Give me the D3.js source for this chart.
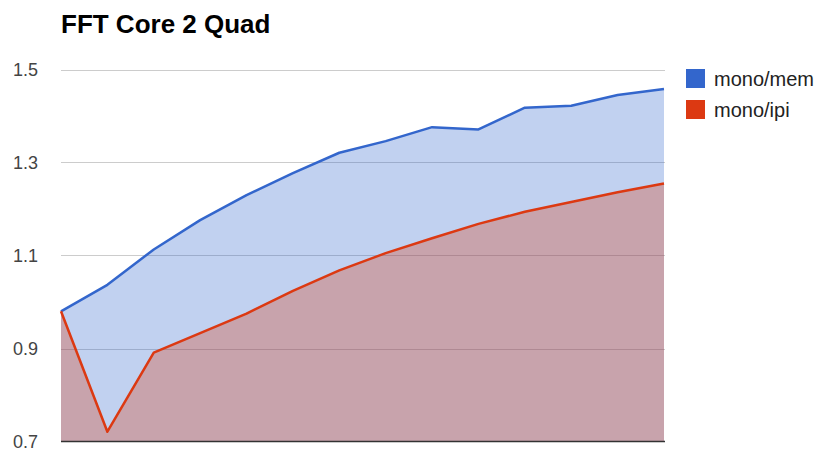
<!DOCTYPE html>
<html>
<head>
<meta charset="utf-8">
<script src="https://cdn.jsdelivr.net/npm/d3@7"></script>
<style>
  body { margin: 0; background: #fff; }
  text { font-family: "Liberation Sans", Arial, sans-serif; }
</style>
</head>
<body>
<svg id="chart" width="818" height="450"></svg>
<script>
var title = "FFT Core 2 Quad";
var seriesNames = ["mono/mem", "mono/ipi"];
var seriesColors = ["#3366CC", "#DC3912"];
var points = d3.range(14);
var monoMem = [0.98, 1.037, 1.113, 1.176, 1.230, 1.277, 1.321, 1.346, 1.376, 1.371, 1.418, 1.422, 1.445, 1.458];
var monoIpi = [0.98, 0.721, 0.891, 0.933, 0.975, 1.024, 1.068, 1.105, 1.137, 1.168, 1.194, 1.215, 1.236, 1.255];
var yTicks = [0.7, 0.9, 1.1, 1.3, 1.5];

var svg = d3.select("#chart");

var x = d3.scaleLinear().domain([0, points.length - 1]).range([61, 664]);
var y = d3.scaleLinear().domain([0.7, 1.5]).range([441.5, 69.5]);

svg.append("text")
	.attr("x", 61)
	.attr("y", 33)
	.attr("font-size", 26)
	.attr("font-weight", "bold")
	.attr("fill", "#000")
	.text(title);

// gridlines
svg.append("g")
	.selectAll("line")
	.data(yTicks.slice(1))
	.enter().append("line")
	.attr("x1", 61)
	.attr("x2", 665)
	.attr("y1", function(d) { return Math.round(y(d)) + 0.5; })
	.attr("y2", function(d) { return Math.round(y(d)) + 0.5; })
	.attr("stroke", "#cccccc")
	.attr("stroke-width", 1);

// axis labels
svg.append("g")
	.selectAll("text")
	.data(yTicks)
	.enter().append("text")
	.attr("x", 38)
	.attr("y", function(d) { return y(d) + 6; })
	.attr("text-anchor", "end")
	.attr("font-size", 18)
	.attr("fill", "#444")
	.text(function(d) { return d.toFixed(1); });

var data = [monoMem, monoIpi];

var area = d3.area()
	.x(function(d, i) { return x(i); })
	.y0(y(0.7))
	.y1(function(d) { return y(d); });

var line = d3.line()
	.x(function(d, i) { return x(i); })
	.y(function(d) { return y(d); });

svg.append("g")
	.selectAll("path")
	.data(data)
	.enter().append("path")
	.attr("d", area)
	.attr("fill", function(d, i) { return seriesColors[i]; })
	.attr("fill-opacity", 0.3);

svg.append("g")
	.selectAll("path")
	.data(data)
	.enter().append("path")
	.attr("d", line)
	.attr("fill", "none")
	.attr("stroke", function(d, i) { return seriesColors[i]; })
	.attr("stroke-width", 2.5)
	.attr("stroke-linejoin", "round");

// baseline
svg.append("line")
	.attr("x1", 61)
	.attr("x2", 665)
	.attr("y1", y(0.7))
	.attr("y2", y(0.7))
	.attr("stroke", "#333")
	.attr("stroke-width", 1.5);

// legend
var legend = svg.append("g")
	.selectAll("g")
	.data(seriesNames)
	.enter().append("g")
	.attr("transform", function(d, i) { return "translate(686," + (69 + i * 31) + ")"; });

legend.append("rect")
	.attr("width", 19)
	.attr("height", 19)
	.attr("fill", function(d, i) { return seriesColors[i]; });

legend.append("text")
	.attr("x", 28)
	.attr("y", 17)
	.attr("font-size", 20)
	.attr("fill", "#222")
	.text(function(d) { return d; });
</script>
</body>
</html>
